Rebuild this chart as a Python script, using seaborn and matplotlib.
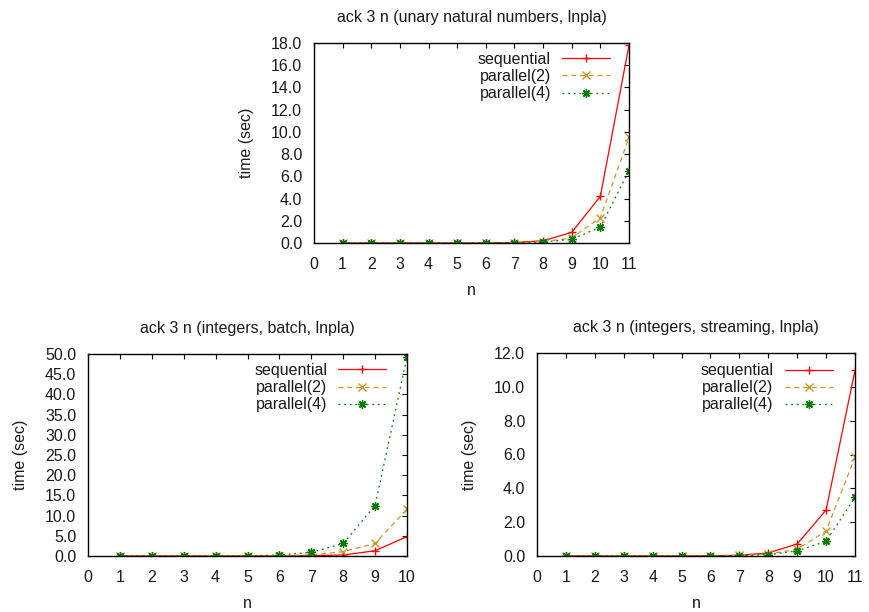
import matplotlib
matplotlib.use("Agg")
import matplotlib.pyplot as plt
import seaborn as sns
import pandas as pd

sns.set_theme(style="white")
plt.rcParams['font.family'] = ['Liberation Sans', 'DejaVu Sans']
FS = 11.5
plt.rcParams['font.size'] = FS

# ---- data ----
n_top = [1, 2, 3, 4, 5, 6, 7, 8, 9, 10, 11]
seq_top = [0.0, 0.0, 0.0, 0.001, 0.003, 0.012, 0.05, 0.2, 0.96, 4.2, 17.8]
par2_top = [0.0, 0.0, 0.0, 0.001, 0.002, 0.008, 0.03, 0.12, 0.45, 2.28, 9.5]
par4_top = [0.0, 0.0, 0.0, 0.001, 0.002, 0.007, 0.025, 0.1, 0.33, 1.44, 6.5]

n_bl = [1, 2, 3, 4, 5, 6, 7, 8, 9, 10]
seq_bl = [0.0, 0.0, 0.0, 0.001, 0.005, 0.02, 0.08, 0.25, 1.3, 4.8]
par2_bl = [0.0, 0.0, 0.0, 0.002, 0.01, 0.06, 0.3, 1.06, 3.1, 11.6]
par4_bl = [0.0, 0.0, 0.0, 0.005, 0.02, 0.25, 0.9, 3.1, 12.5, 49.3]

n_br = [1, 2, 3, 4, 5, 6, 7, 8, 9, 10, 11]
seq_br = [0.0, 0.0, 0.0, 0.001, 0.003, 0.012, 0.045, 0.18, 0.71, 2.72, 10.97]
par2_br = [0.0, 0.0, 0.0, 0.001, 0.002, 0.008, 0.03, 0.12, 0.39, 1.48, 5.84]
par4_br = [0.0, 0.0, 0.0, 0.001, 0.002, 0.007, 0.025, 0.08, 0.3, 0.87, 3.47]

labels = ["sequential", "parallel(2)", "parallel(4)"]
colors = ["#ff0000", "#c49a2c", "#0a7a0a"]
linestyles = ["-", (0, (4, 3)), (0, (1.5, 3))]
markers = ["+", "x", (8, 2, 0)]

fig = plt.figure(figsize=(8.69, 6.12), dpi=100)


def panel(rect, n, series, title, xmax, ymax, ystep, legend_anchor):
    ax = fig.add_axes(rect)
    for lab, vals, c, ls, m in zip(labels, series, colors, linestyles, markers):
        df = pd.DataFrame({"n": n, "t": vals})
        sns.lineplot(data=df, x="n", y="t", ax=ax, color=c, linestyle=ls,
                     marker=m, markersize=6, markeredgewidth=1.0,
                     markeredgecolor=c, linewidth=0.9, label=lab)
    ax.set_xlim(0, xmax)
    ax.set_ylim(0, ymax)
    ax.set_xticks(range(0, xmax + 1))
    yt = [i * ystep for i in range(int(round(ymax / ystep)) + 1)]
    ax.set_yticks(yt)
    ax.set_yticklabels([f"{v:.1f}" for v in yt])
    ax.tick_params(direction="in", length=3.6, width=0.8, top=True, right=True,
                   labelsize=FS, colors="#000000", labelcolor="#1a1a1a")
    ax.tick_params(axis="x", pad=10)
    ax.tick_params(axis="y", pad=8.5)
    for s in ax.spines.values():
        s.set_color("black")
        s.set_linewidth(1.0)
    ax.set_xlabel("n", fontsize=FS, labelpad=8, color="#1a1a1a")
    ax.set_ylabel("time (sec)", fontsize=FS, labelpad=12, color="#1a1a1a")
    ax.set_title(title, fontsize=FS, pad=15, color="#1a1a1a")
    ax.legend(loc="upper right", bbox_to_anchor=legend_anchor, frameon=False,
              markerfirst=False, fontsize=FS, handlelength=3.0,
              handletextpad=0.7, labelspacing=0.13, borderpad=0,
              borderaxespad=0, labelcolor="#1a1a1a")
    return ax


panel([314 / 869, 1 - 243 / 612, 315 / 869, 200 / 612], n_top,
      [seq_top, par2_top, par4_top],
      "ack 3 n (unary natural numbers, lnpla)", 11, 18.0, 2.0, (0.94, 0.955))
panel([88 / 869, 1 - 556 / 612, 319 / 869, 202 / 612], n_bl,
      [seq_bl, par2_bl, par4_bl],
      "ack 3 n (integers, batch, lnpla)", 10, 50.0, 5.0, (0.935, 0.955))
panel([537 / 869, 1 - 556 / 612, 318 / 869, 203 / 612], n_br,
      [seq_br, par2_br, par4_br],
      "ack 3 n (integers, streaming, lnpla)", 11, 12.0, 2.0, (0.93, 0.95))

fig.savefig("out.png", dpi=100)
